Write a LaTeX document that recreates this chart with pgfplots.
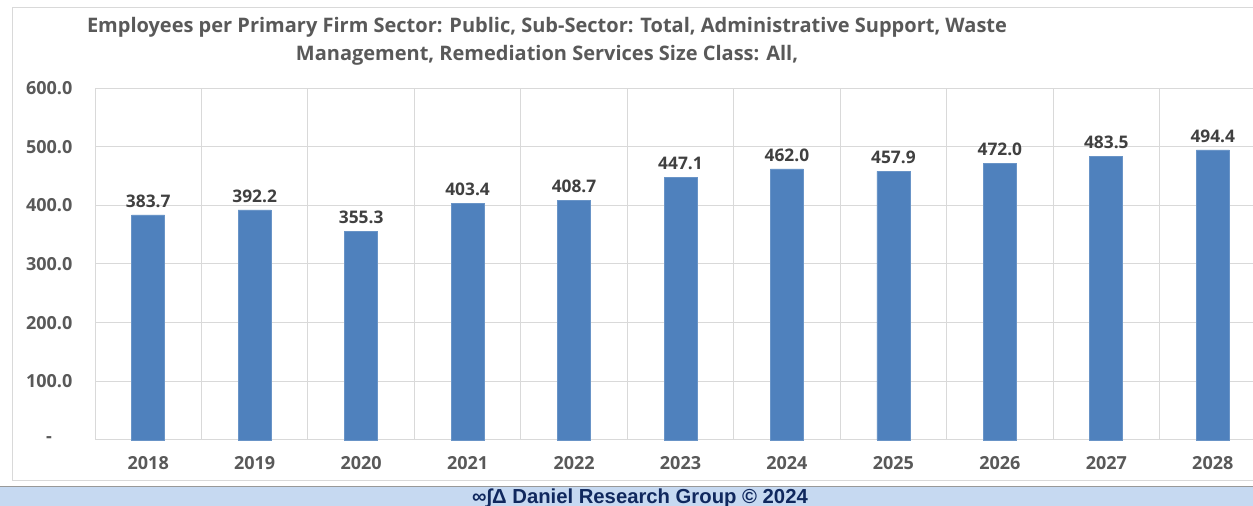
\documentclass[border=0pt]{standalone}
\usepackage{pgfplots}
\pgfplotsset{compat=1.18}
\usepackage{fontspec}
\setmainfont{Open Sans}
\newfontfamily\footfont{Liberation Sans}
\definecolor{barc}{HTML}{4F81BD}
\definecolor{tickc}{HTML}{595959}
\definecolor{labc}{HTML}{404040}
\definecolor{gridc}{HTML}{D9D9D9}
\definecolor{bandc}{HTML}{C6D9F1}
\definecolor{navyc}{HTML}{10285E}
\begin{document}
\begin{tikzpicture}[x=1pt,y=1pt]
\path[use as bounding box] (0,0) rectangle (939.75,379.5);
\clip (0,0) rectangle (939.75,379.5);
\fill[white] (0,0) rectangle (939.75,379.5);
\draw[gridc, line width=0.75pt] (9,18.75) rectangle (960,373.5);
\fill[bandc] (0,0) rectangle (960,14.25);
\draw[black!40, line width=0.75pt] (0,14.25)--(960,14.25);
\node[anchor=base, font=\footfont\bfseries\fontsize{15.2}{17}\selectfont, text=navyc, inner sep=0pt] at (480,1.6) {∞∫Δ Daniel Research Group © 2024};
\node[font=\bfseries\fontsize{15}{21}\selectfont, text=tickc, align=center] at (410.25,348.5) {Employees per Primary Firm Sector: Public, Sub-Sector: Total, Administrative Support, Waste\\Management, Remediation Services Size Class: All,};
\begin{axis}[
  at={(71.25pt,49.5pt)}, anchor=south west,
  scale only axis, width=878.25pt, height=264pt,
  xmin=-0.5, xmax=10.5, ymin=0, ymax=600,
  xtick={0,1,2,3,4,5,6,7,8,9,10},
  xticklabels={2018,2019,2020,2021,2022,2023,2024,2025,2026,2027,2028},
  minor xtick={-0.5,0.5,1.5,2.5,3.5,4.5,5.5,6.5,7.5,8.5,9.5,10.5},
  ytick={0,100,200,300,400,500,600},
  yticklabels={\makebox[2.58em]{-},100.0,200.0,300.0,400.0,500.0,600.0},
  xminorgrids, ymajorgrids,
  grid style={gridc, line width=0.75pt},
  minor grid style={gridc, line width=0.75pt},
  major tick length=0pt, minor tick length=0pt,
  axis line style={draw=none},
  tick style={draw=none},
  ticklabel style={font=\bfseries\fontsize{13.5}{16}\selectfont, text=tickc},
  xticklabel style={yshift=-8.5pt},
  yticklabel style={xshift=-13.5pt},
  /pgf/number format/assume math mode=true,
  ybar, bar width=24.75pt,
  nodes near coords={\pgfmathprintnumber[fixed,fixed zerofill,precision=1]{\pgfplotspointmeta}},
  every node near coord/.append style={font=\bfseries\fontsize{13}{16}\selectfont, text=labc, inner sep=0pt, anchor=south, yshift=5.5pt},
  clip=false,
]
\addplot[fill=barc, draw=barc!85!white, line width=0.5pt] coordinates {
(0,383.7) (1,392.2) (2,355.3) (3,403.4) (4,408.7) (5,447.1) (6,462.0) (7,457.9) (8,472.0) (9,483.5) (10,494.4)};
\end{axis}
\end{tikzpicture}
\end{document}
